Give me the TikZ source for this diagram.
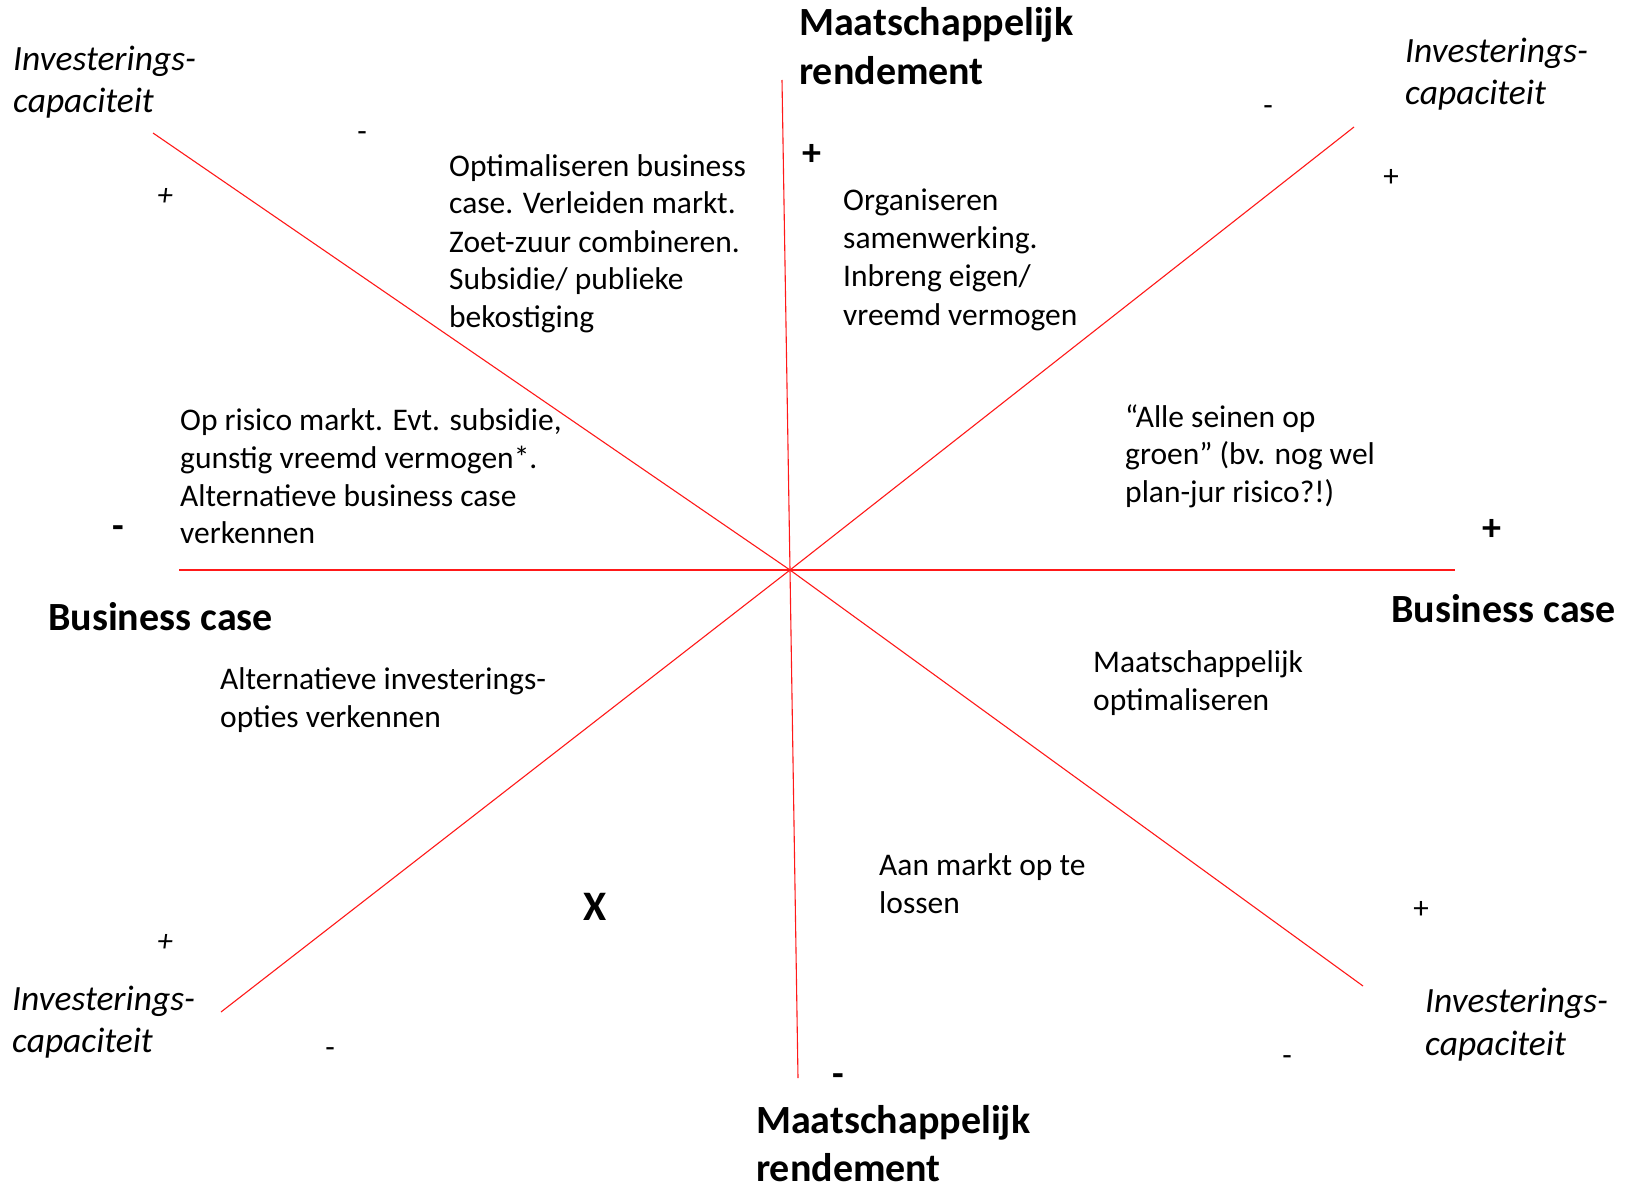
\documentclass[tikz,border=0pt]{standalone}
\usepackage{fontspec}
\setmainfont{Carlito}
\begin{document}
\begin{tikzpicture}[x=1pt,y=-1pt,
  axisline/.style={draw=red!90!white, line width=1.1pt},
  body/.style={anchor=base west, inner sep=0pt, font=\fontsize{31.5}{37}\selectfont},
  axislbl/.style={anchor=base west, inner sep=0pt, font=\fontsize{40}{48}\selectfont\bfseries},
  invlbl/.style={anchor=base west, inner sep=0pt, font=\fontsize{35.5}{42}\selectfont\itshape},
  smallsign/.style={inner sep=0pt, font=\fontsize{31}{36}\selectfont},
  italsign/.style={inner sep=0pt, font=\fontsize{31}{36}\selectfont\itshape},
  bigsign/.style={inner sep=0pt, font=\fontsize{38}{45}\selectfont\bfseries},
]
\useasboundingbox (0,0) rectangle (1628,1188);
\fill[white] (0,0) rectangle (1628,1188);
% axes
\coordinate (c) at (790,570);
\coordinate (ntop) at (782,80);
\coordinate (nbot) at (798,1078);
\coordinate (nleft) at (179,570);
\coordinate (nright) at (1455,570);
\coordinate (nnw) at (153,133);
\coordinate (nse) at (1363,986);
\coordinate (nne) at (1354,127);
\coordinate (nsw) at (221,1012);
\draw[axisline] (c) -- (ntop);
\draw[axisline] (c) -- (nbot);
\draw[axisline] (c) -- (nleft);
\draw[axisline] (c) -- (nright);
\draw[axisline] (c) -- (nnw);
\draw[axisline] (c) -- (nse);
\draw[axisline] (c) -- (nne);
\draw[axisline] (c) -- (nsw);
% axis labels
\node[axislbl] (mt1) at (799,36) {Maatschappelijk};
\node[axislbl] (mt2) at (799,85) {rendement};
\node[axislbl] (mb1) at (756,1133) {Maatschappelijk};
\node[axislbl] (mb2) at (756,1181) {rendement};
\node[axislbl] (bl) at (48,630) {Business case};
\node[axislbl] (br) at (1391,622) {Business case};
% investeringscapaciteit
\node[invlbl] (itl1) at (13,71) {Investerings-};
\node[invlbl] (itl2) at (13,113) {capaciteit};
\node[invlbl] (itr1) at (1405,63) {Investerings-};
\node[invlbl] (itr2) at (1405,105) {capaciteit};
\node[invlbl] (ibl1) at (12,1010) {Investerings-};
\node[invlbl] (ibl2) at (12,1052) {capaciteit};
\node[invlbl] (ibr1) at (1425,1012) {Investerings-};
\node[invlbl] (ibr2) at (1425,1055) {capaciteit};
% signs
\node[smallsign] (stl1) at (362,137) {-};
\node[italsign] (stl2) at (165,197) {+};
\node[smallsign] (str1) at (1268,111) {-};
\node[smallsign] (str2) at (1391,178) {+};
\node[italsign] (sbl1) at (165,943) {+};
\node[smallsign] (sbl2) at (330,1053) {-};
\node[smallsign] (sbr1) at (1421,910) {+};
\node[smallsign] (sbr2) at (1287,1061) {-};
\node[bigsign] (atop) at (812,155) {+};
\node[bigsign] (aright) at (1492,530) {+};
\node[bigsign] (aleft) at (118,532) {-};
\node[bigsign] (abot) at (838,1080) {-};
\node[inner sep=0pt, font=\fontsize{42}{50}\selectfont\bfseries] (xmark) at (595,907) {X};
% texts
\node[body] (q1a) at (449,176) {Optimaliseren business};
\node[body] (q1b) at (449,213) {case. Verleiden markt.};
\node[body] (q1c) at (449,252) {Zoet-zuur combineren.};
\node[body] (q1d) at (449,289) {Subsidie/ publieke};
\node[body] (q1e) at (449,327) {bekostiging};
\node[body] (q2a) at (843,210) {Organiseren};
\node[body] (q2b) at (843,248) {samenwerking.};
\node[body] (q2c) at (843,286) {Inbreng eigen/};
\node[body] (q2d) at (843,325) {vreemd vermogen};
\node[body] (q3a) at (1125,427) {“Alle seinen op};
\node[body] (q3b) at (1125,464) {groen” (bv. nog wel};
\node[body] (q3c) at (1125,502) {plan-jur risico?!)};
\node[body] (q4a) at (180,430) {Op risico markt. Evt. subsidie,};
\node[body] (q4b) at (180,468) {gunstig vreemd vermogen*.};
\node[body] (q4c) at (180,506) {Alternatieve business case};
\node[body] (q4d) at (180,543) {verkennen};
\node[body] (q5a) at (220,689) {Alternatieve investerings-};
\node[body] (q5b) at (220,727) {opties verkennen};
\node[body] (q6a) at (1093,672) {Maatschappelijk};
\node[body] (q6b) at (1093,710) {optimaliseren};
\node[body] (q7a) at (879,875) {Aan markt op te};
\node[body] (q7b) at (879,913) {lossen};
\end{tikzpicture}
\end{document}
